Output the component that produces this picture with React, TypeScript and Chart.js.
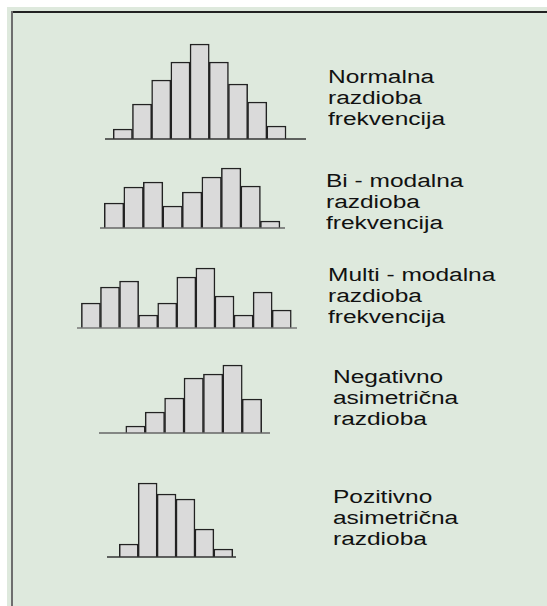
import React, { useEffect, useRef } from "react";
import { Chart, registerables } from "chart.js";

Chart.register(...registerables);

// ---- data ----
const normalValues = [10, 35, 59, 77, 95, 77, 55, 37, 13];
const bimodalValues = [25, 41, 46, 22, 36, 51, 60, 42, 7];
const multimodalValues = [25, 41, 47, 13, 25, 51, 60, 32, 13, 36, 18];
const negativeSkewValues = [7, 21, 35, 55, 59, 68, 34];
const positiveSkewValues = [13, 74, 63, 58, 28, 8];

const normalLabel = ["Normalna", "razdioba", "frekvencija"];
const bimodalLabel = ["Bi - modalna", "razdioba", "frekvencija"];
const multimodalLabel = ["Multi - modalna", "razdioba", "frekvencija"];
const negativeLabel = ["Negativno", "asimetrična", "razdioba"];
const positiveLabel = ["Pozitivno", "asimetrična", "razdioba"];

// ---- layout ----
type Panel = {
  values: number[];
  lines: string[];
  xMin: number;
  xMax: number;
  left: number;
  width: number;
  baseline: number;
  lineColor: string;
  textLeft: number;
  textTop: number;
};

const panels: Panel[] = [
  { values: normalValues, lines: normalLabel, xMin: 0.07, xMax: 10.54, left: 105, width: 201, baseline: 139, lineColor: "#333", textLeft: 328, textTop: 67 },
  { values: bimodalValues, lines: bimodalLabel, xMin: 0.28, xMax: 9.76, left: 100, width: 185, baseline: 228, lineColor: "#666", textLeft: 326, textTop: 171 },
  { values: multimodalValues, lines: multimodalLabel, xMin: 0.27, xMax: 11.8, left: 77, width: 220, baseline: 328, lineColor: "#777", textLeft: 328, textTop: 265 },
  { values: negativeSkewValues, lines: negativeLabel, xMin: -0.88, xMax: 7.93, left: 99, width: 171, baseline: 433, lineColor: "#666", textLeft: 333, textTop: 367 },
  { values: positiveSkewValues, lines: positiveLabel, xMin: -0.15, xMax: 6.67, left: 107, width: 129, baseline: 557, lineColor: "#333", textLeft: 333, textTop: 487 },
];

const PAD_BOTTOM = 3;
const TOP_ROOM = 6;

const baselinePlugin = {
  id: "baseline",
  afterDatasetsDraw(chart: any, _args: any, opts: any) {
    const { ctx, chartArea, scales } = chart;
    const y = scales.y.getPixelForValue(0);
    ctx.save();
    ctx.strokeStyle = opts.color || "#333";
    ctx.lineWidth = 1.5;
    ctx.beginPath();
    ctx.moveTo(chartArea.left, y);
    ctx.lineTo(chartArea.right, y);
    ctx.stroke();
    ctx.restore();
  },
};

function Histogram({ p }: { p: Panel }) {
  const ref = useRef<HTMLCanvasElement | null>(null);
  const yMax = Math.max(...p.values) + TOP_ROOM;
  const height = yMax + PAD_BOTTOM;

  useEffect(() => {
    if (!ref.current) return;
    const chart = new Chart(ref.current, {
      type: "bar",
      data: {
        datasets: [
          {
            data: p.values.map((v, i) => ({ x: i + 1, y: v })),
            backgroundColor: "#dadada",
            borderColor: "#222",
            borderWidth: 1.5,
            categoryPercentage: 1,
            barPercentage: 1,
          } as any,
        ],
      },
      options: {
        responsive: false,
        animation: false,
        layout: { padding: { left: 0, right: 0, top: 0, bottom: PAD_BOTTOM } },
        scales: {
          x: { type: "linear", min: p.xMin, max: p.xMax, display: false, offset: false },
          y: { type: "linear", min: 0, max: yMax, display: false },
        },
        plugins: {
          legend: { display: false },
          tooltip: { enabled: false },
          baseline: { color: p.lineColor },
        } as any,
      },
      plugins: [baselinePlugin as any],
    });
    return () => chart.destroy();
  }, []);

  return (
    <canvas
      ref={ref}
      width={p.width}
      height={height}
      style={{
        position: "absolute",
        left: p.left,
        top: p.baseline - yMax,
        width: p.width,
        height: height,
      }}
    />
  );
}

export default function App() {
  return (
    <div style={{ position: "absolute", left: 0, top: 0, width: 547, height: 606, background: "#ffffff", overflow: "hidden" }}>
      <div style={{ position: "absolute", left: 7, top: 7, width: 540, height: 599, background: "#dee9dd" }} />
      <div style={{ position: "absolute", left: 11, top: 11, width: 536, height: 1.5, background: "#222" }} />
      <div style={{ position: "absolute", left: 11, top: 11, width: 2, height: 595, background: "#6e6e6e" }} />
      {panels.map((p, i) => (
        <React.Fragment key={i}>
          <Histogram p={p} />
          <div
            style={{
              position: "absolute",
              left: p.textLeft,
              top: p.textTop,
              fontFamily: "'Liberation Sans', Arial, sans-serif",
              fontSize: 18,
              lineHeight: "21px",
              color: "#111",
              whiteSpace: "nowrap",
              transform: "scaleX(1.36)",
              transformOrigin: "left top",
            }}
          >
            {p.lines.map((l, j) => (
              <div key={j}>{l}</div>
            ))}
          </div>
        </React.Fragment>
      ))}
    </div>
  );
}
